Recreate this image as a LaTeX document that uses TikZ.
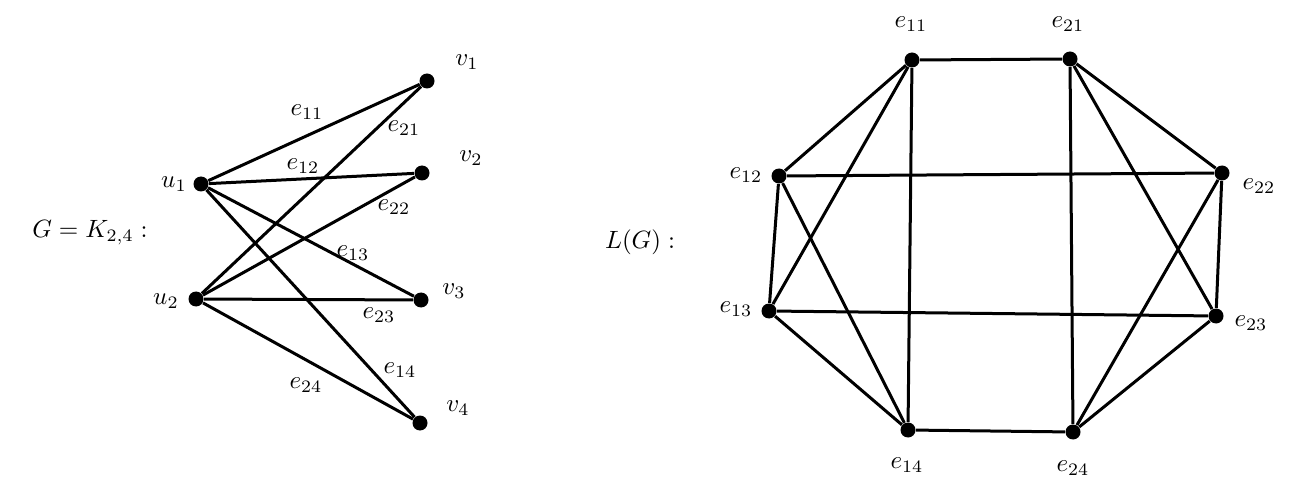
\documentclass[tikz,border=0pt]{standalone}
\begin{document}
\begin{tikzpicture}[x=0.4pt,y=-0.4pt,
  dot/.style={circle,fill=black,inner sep=0pt,minimum size=6pt},
  lbl/.style={inner sep=0pt},
  edge/.style={line width=1.2pt}]
\useasboundingbox (0,0) rectangle (1301,499);
% left graph
\node[dot] (u1) at (201,184) {};
\node[dot] (u2) at (196,299) {};
\node[dot] (v1) at (427,81) {};
\node[dot] (v2) at (422,173) {};
\node[dot] (v3) at (421,300) {};
\node[dot] (v4) at (420,423) {};
\node[lbl] (lu1) at (174,184) {$u_1$};
\node[lbl] (lu2) at (166,301) {$u_2$};
\node[lbl] (lv1) at (467,62) {$v_1$};
\node[lbl] (lv2) at (471,158) {$v_2$};
\node[lbl] (lv3) at (454,291) {$v_3$};
\node[lbl] (lv4) at (458,408) {$v_4$};
\node[lbl] (G) at (90,233) {$G=K_{2,4}:$};
\foreach \a/\b in {u1/v1,u1/v2,u1/v3,u1/v4,u2/v1,u2/v2,u2/v3,u2/v4}
  \draw[edge] (\a) -- (\b);
\node[lbl] (le11) at (307,112) {$e_{11}$};
\node[lbl] (le21) at (404,128) {$e_{21}$};
\node[lbl] (le12) at (303,166) {$e_{12}$};
\node[lbl] (le22) at (394,207) {$e_{22}$};
\node[lbl] (le13) at (353,253) {$e_{13}$};
\node[lbl] (le23) at (379,315) {$e_{23}$};
\node[lbl] (le14) at (400,370) {$e_{14}$};
\node[lbl] (le24) at (306,385) {$e_{24}$};
% line graph
\node[lbl] (LG) at (640,242) {$L(G):$};
\node[dot] (e11) at (912,60) {};
\node[dot] (e21) at (1070,59) {};
\node[dot] (e12) at (779,176) {};
\node[dot] (e22) at (1222,173) {};
\node[dot] (e13) at (769,311) {};
\node[dot] (e23) at (1216,316) {};
\node[dot] (e14) at (908,430) {};
\node[dot] (e24) at (1073,432) {};
\node[lbl] (me11) at (911,24) {$e_{11}$};
\node[lbl] (me21) at (1068,24) {$e_{21}$};
\node[lbl] (me12) at (746,175) {$e_{12}$};
\node[lbl] (me22) at (1259,186) {$e_{22}$};
\node[lbl] (me13) at (736,309) {$e_{13}$};
\node[lbl] (me23) at (1251,323) {$e_{23}$};
\node[lbl] (me14) at (907,465) {$e_{14}$};
\node[lbl] (me24) at (1073,468) {$e_{24}$};
\foreach \a/\b in {e11/e21,e11/e12,e11/e13,e11/e14,e12/e13,e12/e14,e13/e14,
  e21/e22,e21/e23,e21/e24,e22/e23,e22/e24,e23/e24,
  e12/e22,e13/e23,e14/e24}
  \draw[edge] (\a) -- (\b);
\end{tikzpicture}
\end{document}
